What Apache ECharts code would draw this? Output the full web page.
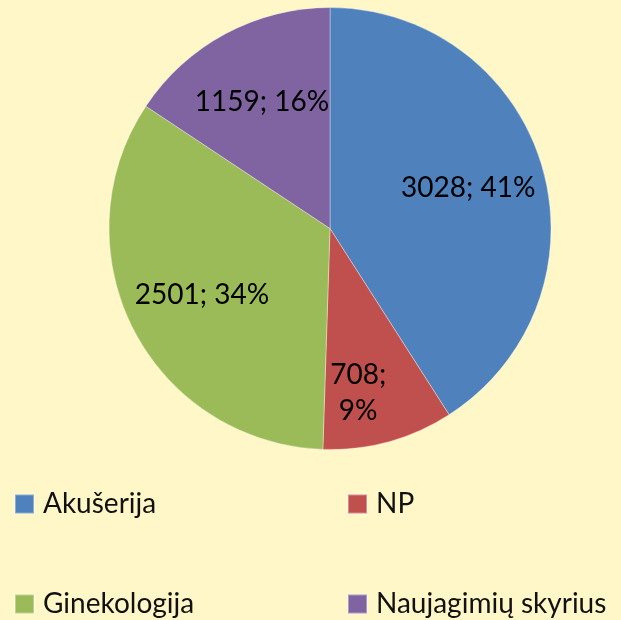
<!DOCTYPE html>
<html>
<head>
<meta charset="utf-8">
<script src="https://cdn.jsdelivr.net/npm/echarts@6/dist/echarts.min.js"></script>
<style>
  html, body { margin: 0; padding: 0; background: #FFF7C8; }
  #chartContainer { width: 621px; height: 620px; }
</style>
</head>
<body>
<div id="chartContainer"></div>
<script>
var pieChart = echarts.init(document.getElementById("chartContainer"));

var sliceNames = ['Akušerija', 'NP', 'Ginekologija', 'Naujagimių skyrius'];
var sliceValues = [3028, 708, 2501, 1159];
var slicePercents = [41, 9, 34, 16];
var sliceColors = ['#4F81BD', '#C0504D', '#9BBB59', '#8064A2'];

var pieData = sliceNames.map(function (n, i) {
    return { name: n, value: sliceValues[i] };
});

// label text like Excel: "3028; 41%", small slices wrap
function labelText(p) {
    var pct = slicePercents[p.dataIndex];
    var sep = pct < 12 ? ';\n' : '; ';
    return p.value + sep + pct + '%';
}

var legendText = { fontFamily: 'Lato', fontSize: 28, color: '#111', lineHeight: 30, padding: [0, 0, 0, 4] };

pieChart.setOption({
    backgroundColor: '#FFF7C8',
    color: sliceColors,
    animation: false,
    legend: [{
        orient: 'vertical',
        left: 14, top: 489, height: 200, padding: 0,
        itemWidth: 19, itemHeight: 19, itemGap: 70,
        icon: 'rect',
        data: ['Akušerija', 'Ginekologija'],
        textStyle: legendText
    }, {
        orient: 'vertical',
        left: 347, top: 489, height: 200, padding: 0,
        itemWidth: 19, itemHeight: 19, itemGap: 70,
        icon: 'rect',
        data: ['NP', 'Naujagimių skyrius'],
        textStyle: legendText
    }],
    series: [{
        type: 'pie',
        center: [330, 228.5],
        radius: [0, 221],
        startAngle: 90,
        silent: true,
        itemStyle: { borderColor: 'rgba(255,255,255,0.35)', borderWidth: 1 },
        label: { show: false },
        labelLine: { show: false },
        data: pieData
    }, {
        // invisible copy, only used to push the labels further out
        type: 'pie',
        center: [330, 228.5],
        radius: [0, 282],
        startAngle: 90,
        silent: true,
        itemStyle: { color: 'rgba(0,0,0,0)' },
        label: {
            show: true,
            position: 'inside',
            formatter: labelText,
            fontFamily: 'Lato',
            fontSize: 28,
            lineHeight: 36,
            color: '#000'
        },
        labelLayout: function (p) {
            // the wrapped small-slice label sits lower in the original
            return slicePercents[p.dataIndex] < 12 ? { dx: -10, dy: 26 } : {};
        },
        labelLine: { show: false },
        data: pieData
    }]
});
</script>
</body>
</html>
